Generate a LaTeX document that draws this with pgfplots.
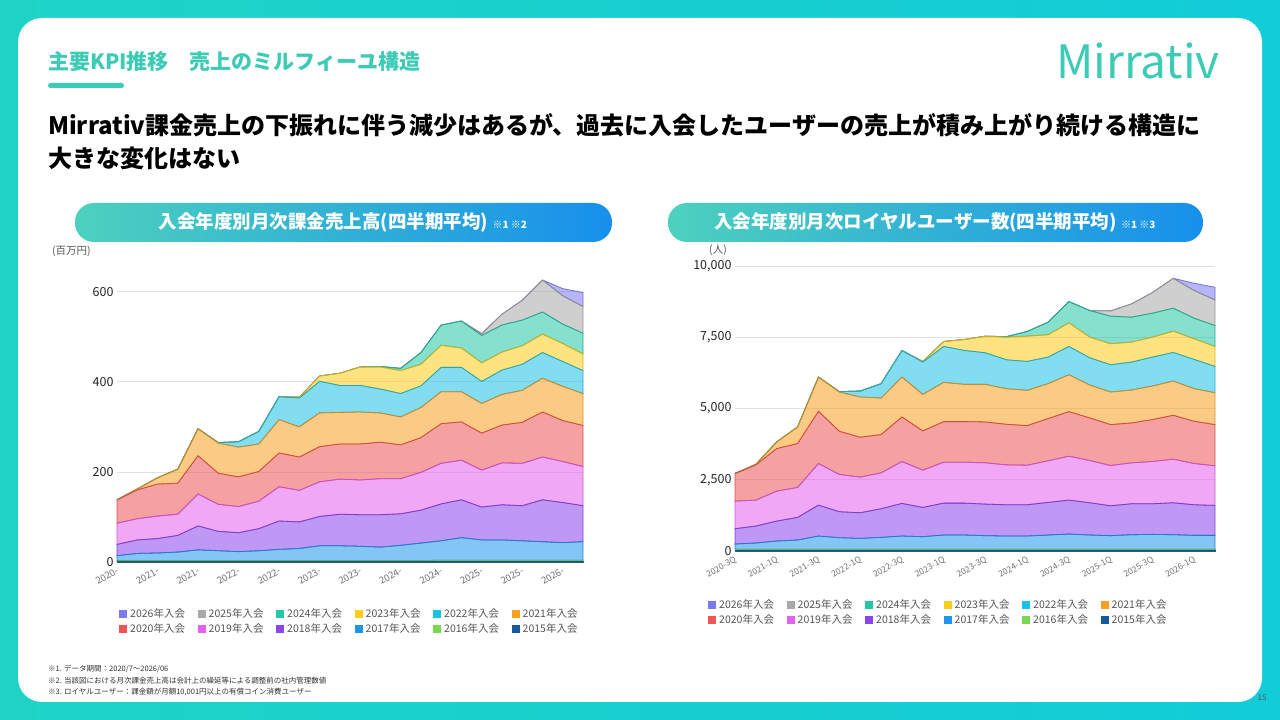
\documentclass[border=0pt]{standalone}
\usepackage{pgfplots}
\usepackage{pgfplotstable}
\pgfplotsset{compat=1.18}
\usepackage{fontspec}
\setmainfont{Noto Sans CJK JP}
\definecolor{c26}{HTML}{7B7BF0}
\definecolor{c25}{HTML}{A8A8A8}
\definecolor{c24}{HTML}{22C7A5}
\definecolor{c23}{HTML}{FFCC1A}
\definecolor{c22}{HTML}{1CC2E6}
\definecolor{c21}{HTML}{F9A020}
\definecolor{c20}{HTML}{F05555}
\definecolor{c19}{HTML}{E560F0}
\definecolor{c18}{HTML}{8A45EC}
\definecolor{c17}{HTML}{1E96EC}
\definecolor{c16}{HTML}{77D94E}
\definecolor{c15}{HTML}{155A9E}
\definecolor{teal}{HTML}{3CCBB4}
\definecolor{frameA}{HTML}{1ED3C6}
\definecolor{frameB}{HTML}{12CCD8}
\definecolor{pillA}{HTML}{4DD1BE}
\definecolor{pillB}{HTML}{1690EC}
\definecolor{gtxt}{HTML}{555555}

\pgfplotstableread{
x y15 y16 y17 y18 y19 y20 y21 y22 y23 y24 y25 y26
0 1 2 11 25 47 52 0 0 0 0 0 0
1 1 2 16 30 47 64 2 0 0 0 0 0
2 1 2 17 32 50 71 14 0 0 0 0 0
3 1 2 19 37 47 69 31 0 0 0 0 0
4 1 2 24 53 71 85 60 0 0 0 0 0
5 1 2 22 43 60 69 67 1 0 0 0 0
6 1 2 20 42 58 66 66 12 0 0 0 0
7 1 2 22 49 61 66 61 28 0 0 0 0
8 1 2 25 63 76 75 74 51 0 0 0 0
9 1 2 27 59 70 74 67 64 2 0 0 0
10 1 2 33 65 77 78 75 70 12 0 0 0
11 1 2 33 70 78 78 70 60 27 0 0 0
12 1 2 32 70 77 80 71 59 41 0 0 0
13 1 2 30 72 80 81 65 53 49 1 0 0
14 1 2 34 70 78 75 62 52 51 5 0 0
15 1 2 39 73 84 77 67 48 48 26 0 0
16 1 3 43 82 90 88 71 54 49 45 0 0
17 1 3 50 84 88 85 67 54 43 60 0 0
18 1 3 45 73 82 82 66 49 41 61 4 0
19 1 3 45 78 93 84 68 54 40 60 24 0
20 1 3 43 78 94 91 71 58 41 57 44 0
21 1 3 41 93 95 100 75 57 41 49 71 0
22 1 3 39 89 91 91 76 55 40 43 63 16
23 1 3 41 80 87 91 71 51 37 46 59 31
}\salesdata

\pgfplotstableread{
x y15 y16 y17 y18 y19 y20 y21 y22 y23 y24 y25 y26
0 20 40 185 537 968 969 0 0 0 0 0 0
1 20 40 220 595 910 1237 18 0 0 0 0 0
2 20 40 290 700 1050 1494 234 0 0 0 0 0
3 20 40 325 794 1050 1540 584 0 0 0 0 0
4 20 40 465 1085 1459 1832 1202 0 0 0 0 0
5 20 40 407 910 1307 1517 1377 12 0 0 0 0
6 20 40 383 899 1249 1400 1412 210 0 0 0 0
7 20 40 418 1004 1260 1343 1283 502 0 0 0 0
8 20 40 465 1144 1470 1564 1400 934 0 0 0 0
9 20 40 442 1027 1307 1377 1284 1132 20 0 0 0
10 20 40 500 1120 1436 1424 1377 1260 175 0 0 0
11 20 40 500 1120 1436 1424 1307 1190 385 0 0 0
12 20 40 477 1108 1448 1435 1319 1108 584 0 0 0
13 20 40 465 1097 1400 1424 1249 1015 794 16 0 0
14 20 40 465 1097 1389 1389 1237 1015 887 163 0 0
15 20 40 500 1144 1459 1482 1225 934 782 443 0 0
16 20 40 535 1190 1541 1564 1295 992 829 746 0 0
17 20 40 500 1132 1482 1494 1155 957 724 933 0 0
18 20 40 477 1050 1412 1436 1143 957 735 969 186 0
19 20 40 512 1085 1436 1400 1155 981 700 875 467 0
20 20 40 523 1074 1482 1471 1178 1016 700 840 723 0
21 20 40 512 1120 1529 1540 1202 1004 747 805 1050 0
22 20 40 488 1074 1447 1482 1144 1027 724 723 968 257
23 20 40 488 1051 1389 1447 1120 922 700 735 899 443
}\userdata

\pgfplotsset{
  kpi/.style={
    scale only axis, xmin=0, xmax=23, ymin=0,
    axis x line=bottom, axis y line=left, axis line style={draw=none},
    stack plots=y,
    ymajorgrids, grid style={draw=black!12, line width=0.8pt},
    xtick={0,2,...,22}, major tick length=0pt,
    x tick label style={rotate=30, anchor=north east, font=\fontsize{9.5}{11}\selectfont, text=black!55},
    y tick label style={font=\fontsize{12.5}{14}\selectfont, text=black!85},
    /pgf/number format/assume math mode=true,
    scaled y ticks=false,
    clip=false,
  },
  lay/.style={fill=#1, fill opacity=0.55, draw=#1!85!black, line width=0.8pt, draw opacity=0.9},
}
\newcommand{\layers}[1]{%
  \addplot[lay=c15] table[x=x,y=y15]{#1} \closedcycle;
  \addplot[lay=c16] table[x=x,y=y16]{#1} \closedcycle;
  \addplot[lay=c17] table[x=x,y=y17]{#1} \closedcycle;
  \addplot[lay=c18] table[x=x,y=y18]{#1} \closedcycle;
  \addplot[lay=c19] table[x=x,y=y19]{#1} \closedcycle;
  \addplot[lay=c20] table[x=x,y=y20]{#1} \closedcycle;
  \addplot[lay=c21] table[x=x,y=y21]{#1} \closedcycle;
  \addplot[lay=c22] table[x=x,y=y22]{#1} \closedcycle;
  \addplot[lay=c23] table[x=x,y=y23]{#1} \closedcycle;
  \addplot[lay=c24] table[x=x,y=y24]{#1} \closedcycle;
  \addplot[lay=c25] table[x=x,y=y25]{#1} \closedcycle;
  \addplot[lay=c26] table[x=x,y=y26]{#1} \closedcycle;
}
\newcommand{\legrows}[3]{% x0, y-row1 (from top), spacing
  \foreach \c/\t [count=\i from 0] in {c26/2026,c25/2025,c24/2024,c23/2023,c22/2022,c21/2021}{
    \fill[\c] ({#1+\i*#3},{720-#2-4}) rectangle ++(8,8);
    \node[anchor=west, inner sep=0, font=\fontsize{10.5}{12}\selectfont, text=gtxt] at ({#1+\i*#3+11},{720-#2}) {\t 年入会};
  }
  \foreach \c/\t [count=\i from 0] in {c20/2020,c19/2019,c18/2018,c17/2017,c16/2016,c15/2015}{
    \fill[\c] ({#1+\i*#3},{720-#2-19}) rectangle ++(8,8);
    \node[anchor=west, inner sep=0, font=\fontsize{10.5}{12}\selectfont, text=gtxt] at ({#1+\i*#3+11},{720-#2-15}) {\t 年入会};
  }
}

\begin{document}
\begin{tikzpicture}[x=1pt,y=1pt]
\useasboundingbox (0,0) rectangle (1280,720);
\shade[left color=frameA, right color=frameB] (0,0) rectangle (1280,720);
\fill[white, rounded corners=24pt] (18,18) rectangle (1262,702);
\coordinate (LA) at (117,158);
\coordinate (RA) at (735,169);
% title
\node[anchor=west, inner sep=0, font=\fontsize{21}{24}\selectfont\bfseries, text=teal] at (48,658) {主要KPI推移　売上のミルフィーユ構造};
\fill[teal, rounded corners=2.5pt] (48,632) rectangle (124,637);
\node[anchor=west, inner sep=0, font=\fontsize{46}{48}\selectfont, text=teal] at (1056,659) {Mirrativ};
\node[anchor=north west, align=left, inner sep=0, font=\fontsize{24}{33}\selectfont\bfseries] at (48,607) {Mirrativ課金売上の下振れに伴う減少はあるが、過去に入会したユーザーの売上が積み上がり続ける構造に\\大きな変化はない};
% pills
\shade[left color=pillA, right color=pillB, rounded corners=19pt] (75,478) rectangle (612,517);
\node[text=white, font=\fontsize{18.5}{20}\selectfont\bfseries, inner sep=0] at (343,498) {入会年度別月次課金売上高(四半期平均) {\fontsize{10}{10}\selectfont ※1 ※2}};
\shade[left color=pillA, right color=pillB, rounded corners=19pt] (668,478) rectangle (1203,517);
\node[text=white, font=\fontsize{18.5}{20}\selectfont\bfseries, inner sep=0] at (935,498) {入会年度別月次ロイヤルユーザー数(四半期平均) {\fontsize{10}{10}\selectfont ※1 ※3}};
\node[anchor=west, inner sep=0, font=\fontsize{10.5}{12}\selectfont, text=gtxt] at (52,469) {(百万円)};
\node[anchor=west, inner sep=0, font=\fontsize{10.5}{12}\selectfont, text=gtxt] at (709,470) {(人)};

\begin{axis}[kpi, at={(LA)}, anchor=south west, width=466, height=300, ymax=666,
  ytick={0,200,400,600}, xticklabels={2020-,2021-,2021-,2022-,2022-,2023-,2023-,2024-,2024-,2025-,2025-,2026-}]
\layers{\salesdata}
\end{axis}

\begin{axis}[kpi, at={(RA)}, anchor=south west, width=480, height=285, ymax=10000,
  ytick={0,2500,5000,7500,10000},
  yticklabel style={/pgf/number format/1000 sep={,}, /pgf/number format/fixed},
  x tick label style={font=\fontsize{8.5}{10}\selectfont},
  xticklabels={2020-3Q,2021-1Q,2021-3Q,2022-1Q,2022-3Q,2023-1Q,2023-3Q,2024-1Q,2024-3Q,2025-1Q,2025-3Q,2026-1Q}]
\layers{\userdata}
\end{axis}

\legrows{119}{614}{78.5}
\legrows{708}{605}{78.5}

\node[anchor=north west, align=left, inner sep=0, font=\fontsize{7.5}{11.5}\selectfont, text=black!80] at (48,55) {※1. データ期間：2020/7～2026/06\\※2. 当該図における月次課金売上高は会計上の繰延等による調整前の社内管理数値\\※3. ロイヤルユーザー：課金額が月額10,001円以上の有償コイン消費ユーザー};
\node[font=\fontsize{8}{10}\selectfont, text=gtxt] at (1262,22) {15};
\end{tikzpicture}
\end{document}
